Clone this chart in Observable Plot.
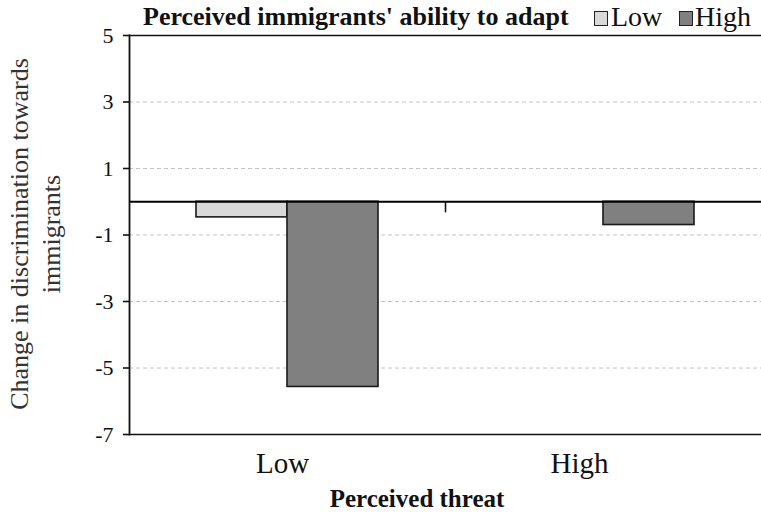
<!DOCTYPE html>
<html><head><meta charset="utf-8">
<script src="https://cdn.jsdelivr.net/npm/d3@7"></script>
<script src="https://cdn.jsdelivr.net/npm/@observablehq/plot@0.6"></script>
<style>
html,body{margin:0;padding:0;background:#fff;overflow:hidden}
#wrap{position:relative;width:761px;height:512px;font-family:"Liberation Serif","Times New Roman",serif;color:#111}
#chart{position:absolute;left:0;top:0}
#chart svg, #chart svg text{font-family:"Liberation Serif","Times New Roman",serif !important}
.ov{position:absolute;white-space:nowrap;line-height:1}
.box{position:absolute;width:12px;height:13px;border:1.5px solid #222}
</style></head><body><div id="wrap"><div id="chart"></div></div>
<script>
const threatLevels = ["Low", "High"];
const adaptLevels = ["Low", "High"];
const lowAdaptValues = [-0.47, 0];
const highAdaptValues = [-5.57, -0.70];
const yTicks = [5, 3, 1, -1, -3, -5, -7];
const gridTicks = [3, 1, -1, -3, -5];
const frameTicks = [5, -7];
const adaptColors = ["#d9d9d9", "#808080"];
const legendTitle = "Perceived immigrants' ability to adapt";
const yLabelLines = ["Change in discrimination towards", "immigrants"];
const xTitle = "Perceived threat";

const rows = threatLevels.flatMap((t, i) => [
  {threat: t, adapt: adaptLevels[0], value: lowAdaptValues[i]},
  {threat: t, adapt: adaptLevels[1], value: highAdaptValues[i]}
]);

const serif = "'Liberation Serif', 'Times New Roman', serif";
const chart = Plot.plot({
  width: 761, height: 512,
  marginTop: 35, marginBottom: 78, marginLeft: 128, marginRight: 0,
  style: {fontFamily: serif, overflow: "visible", background: "transparent"},
  fx: {domain: threatLevels, padding: 0, axis: null, label: null},
  x: {domain: adaptLevels, paddingInner: 0, paddingOuter: 0.73, axis: null, label: null},
  y: {domain: [-7, 5], axis: null, label: null},
  color: {domain: adaptLevels, range: adaptColors},
  marks: [
    Plot.ruleY(gridTicks, {stroke: "#c4c4c4", strokeDasharray: "4,3", strokeWidth: 1}),
    Plot.ruleY(frameTicks, {stroke: "#111", strokeWidth: 1.6}),
    Plot.barY(rows, {fx: "threat", x: "adapt", y: "value", fill: "adapt", stroke: "#1a1a1a", strokeWidth: 1.6}),
    Plot.ruleY([0], {stroke: "#000", strokeWidth: 1.8}),
    Plot.frame({anchor: "left", facetAnchor: "left", stroke: "#111", strokeWidth: 1.8}),
    Plot.vector([0], {
      fx: () => threatLevels[1], y: d => d, frameAnchor: "left",
      length: 10, rotate: 180, anchor: "start", stroke: "#111", strokeWidth: 1.6,
      shape: {draw(ctx, l) { ctx.moveTo(0, 0); ctx.lineTo(0, -l); }}
    }),
    Plot.axisY({
      ticks: yTicks, facetAnchor: "left", tickSize: 6, tickPadding: 10,
      fontSize: 22, fontFamily: serif, color: "#111", strokeWidth: 1.6, label: null,
      tickFormat: d => String(d)
    }),
    Plot.text([threatLevels[0]], {fx: d => d, text: d => d, frameAnchor: "bottom", dy: 38, dx: -5, fontSize: 29, fontFamily: serif, fill: "#111"}),
    Plot.text([threatLevels[1]], {fx: d => d, text: d => d, frameAnchor: "bottom", dy: 38, dx: -24, fontSize: 29, fontFamily: serif, fill: "#111"})
  ]
});
document.getElementById("chart").appendChild(chart);

const wrap = document.getElementById("wrap");
function ov(html, style) {
  const d = document.createElement("div");
  d.className = "ov";
  d.innerHTML = html;
  d.setAttribute("style", style);
  wrap.appendChild(d);
  return d;
}
function box(color, left) {
  const d = document.createElement("div");
  d.className = "box";
  d.setAttribute("style", `left:${left}px;top:11px;background:${color}`);
  wrap.appendChild(d);
}
ov(legendTitle, "left:143px;top:4px;font-size:26px;font-weight:bold");
box(adaptColors[0], 594);
ov(adaptLevels[0], "left:611px;top:3px;font-size:28px");
box(adaptColors[1], 679);
ov(adaptLevels[1], "left:695px;top:3px;font-size:28px");
ov(xTitle, "left:417px;top:486px;font-size:25px;font-weight:bold;transform:translateX(-50%)");
ov(yLabelLines.join("<br>"), "left:36px;top:234px;font-size:26px;line-height:32px;color:#333;text-align:center;transform:translate(-50%,-50%) rotate(-90deg)");
</script></body></html>
